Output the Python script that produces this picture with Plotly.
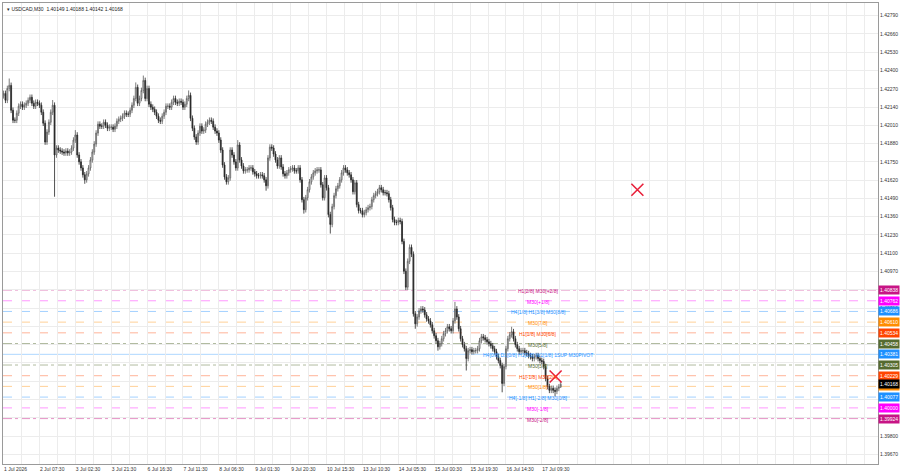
import plotly.graph_objects as go

# ---------------- data ----------------
symbol_header = "USDCAD,M30  1.40149 1.40188 1.40142 1.40168"

opens = [
1.42220, 1.42237, 1.42188, 1.42272, 1.42294, 1.42117, 1.42046, 1.42046, 1.42096, 1.42146,
1.42160, 1.42139, 1.42153, 1.42167, 1.42188, 1.42209, 1.42167, 1.42146, 1.42174, 1.42167,
1.42153, 1.42103, 1.42025, 1.41891, 1.41962, 1.42032, 1.42103, 1.42153, 1.41799, 1.41848,
1.41834, 1.41827, 1.41820, 1.41813, 1.41827, 1.41813, 1.41820, 1.41848, 1.41905, 1.41941,
1.41799, 1.41750, 1.41707, 1.41658, 1.41622, 1.41665, 1.41707, 1.41764, 1.41820, 1.41877,
1.41955, 1.42018, 1.42004, 1.42004, 1.42032, 1.42011, 1.41989, 1.41997, 1.41997, 1.41982,
1.42004, 1.42039, 1.42053, 1.42060, 1.42075, 1.42096, 1.42089, 1.42089, 1.42117, 1.42153,
1.42201, 1.42280, 1.42167, 1.42201, 1.42258, 1.42329, 1.42201, 1.42272, 1.42160, 1.42139,
1.42124, 1.42103, 1.42075, 1.42046, 1.42039, 1.42075, 1.42103, 1.42146, 1.42146, 1.42139,
1.42174, 1.42201, 1.42174, 1.42167, 1.42181, 1.42174, 1.42139, 1.42160, 1.42201, 1.42223,
1.42060, 1.41989, 1.41927, 1.41891, 1.41955, 1.42004, 1.41969, 1.41976, 1.42018, 1.42032,
1.42046, 1.42039, 1.41997, 1.41969, 1.41955, 1.41905, 1.41834, 1.41728, 1.41643, 1.41608,
1.41636, 1.41834, 1.41799, 1.41750, 1.41707, 1.41870, 1.41764, 1.41721, 1.41686, 1.41693,
1.41693, 1.41707, 1.41707, 1.41679, 1.41665, 1.41651, 1.41651, 1.41658, 1.41651, 1.41622,
1.41580, 1.41778, 1.41855, 1.41848, 1.41806, 1.41764, 1.41721, 1.41778, 1.41714, 1.41665,
1.41651, 1.41672, 1.41693, 1.41700, 1.41707, 1.41686, 1.41686, 1.41707, 1.41622, 1.41481,
1.41410, 1.41495, 1.41552, 1.41608, 1.41643, 1.41672, 1.41686, 1.41693, 1.41693, 1.41587,
1.41495, 1.41636, 1.41566, 1.41375, 1.41305, 1.41432, 1.41510, 1.41559, 1.41580, 1.41622,
1.41672, 1.41707, 1.41693, 1.41672, 1.41658, 1.41622, 1.41538, 1.41601, 1.41446, 1.41403,
1.41403, 1.41375, 1.41389, 1.41410, 1.41424, 1.41432, 1.41481, 1.41510, 1.41524, 1.41538,
1.41566, 1.41552, 1.41531, 1.41531, 1.41524, 1.41481, 1.41424, 1.41340, 1.41319, 1.41319,
1.41333, 1.41326, 1.41184, 1.40972, 1.40859, 1.41043, 1.41142, 1.41093, 1.40669, 1.40598,
1.40647, 1.40690, 1.40704, 1.40697, 1.40662, 1.40633, 1.40619, 1.40591, 1.40549, 1.40513,
1.40478, 1.40435, 1.40457, 1.40492, 1.40528, 1.40549, 1.40577, 1.40563, 1.40549, 1.40619,
1.40704, 1.40647, 1.40563, 1.40492, 1.40450, 1.40421, 1.40351, 1.40407, 1.40414, 1.40400,
1.40407, 1.40407, 1.40421, 1.40478, 1.40506, 1.40499, 1.40485, 1.40471, 1.40457, 1.40442,
1.40421, 1.40400, 1.40364, 1.40337, 1.40301, 1.40174, 1.40294, 1.40421, 1.40492, 1.40520,
1.40542, 1.40492, 1.40450, 1.40421, 1.40400, 1.40407, 1.40407, 1.40393, 1.40386, 1.40372,
1.40364, 1.40351, 1.40364, 1.40372, 1.40351, 1.40337, 1.40330, 1.40294, 1.40209, 1.40152,
1.40125, 1.40139, 1.40125, 1.40118, 1.40139, 1.40149,
]

highs = [
1.42257, 1.42257, 1.42292, 1.42343, 1.42314, 1.42137, 1.42066, 1.42116, 1.42166, 1.42180,
1.42180, 1.42173, 1.42187, 1.42208, 1.42229, 1.42229, 1.42187, 1.42194, 1.42194, 1.42187,
1.42173, 1.42123, 1.42045, 1.41982, 1.42052, 1.42123, 1.42190, 1.42173, 1.41868, 1.41868,
1.41854, 1.41847, 1.41840, 1.41847, 1.41847, 1.41840, 1.41868, 1.41925, 1.41976, 1.41961,
1.41819, 1.41770, 1.41727, 1.41678, 1.41685, 1.41727, 1.41784, 1.41840, 1.41897, 1.41975,
1.42038, 1.42038, 1.42024, 1.42052, 1.42052, 1.42031, 1.42017, 1.42017, 1.42017, 1.42024,
1.42059, 1.42073, 1.42080, 1.42095, 1.42116, 1.42116, 1.42109, 1.42137, 1.42173, 1.42221,
1.42315, 1.42300, 1.42221, 1.42278, 1.42364, 1.42349, 1.42292, 1.42292, 1.42180, 1.42159,
1.42144, 1.42123, 1.42095, 1.42066, 1.42095, 1.42123, 1.42166, 1.42166, 1.42166, 1.42194,
1.42221, 1.42221, 1.42194, 1.42201, 1.42201, 1.42194, 1.42180, 1.42221, 1.42258, 1.42243,
1.42080, 1.42009, 1.41947, 1.41975, 1.42024, 1.42024, 1.41996, 1.42038, 1.42052, 1.42066,
1.42066, 1.42059, 1.42017, 1.41989, 1.41975, 1.41925, 1.41854, 1.41748, 1.41663, 1.41656,
1.41854, 1.41854, 1.41819, 1.41770, 1.41905, 1.41890, 1.41784, 1.41741, 1.41713, 1.41713,
1.41727, 1.41727, 1.41727, 1.41699, 1.41685, 1.41671, 1.41678, 1.41678, 1.41671, 1.41642,
1.41798, 1.41875, 1.41875, 1.41868, 1.41826, 1.41784, 1.41798, 1.41798, 1.41734, 1.41685,
1.41692, 1.41713, 1.41720, 1.41727, 1.41727, 1.41706, 1.41727, 1.41727, 1.41642, 1.41501,
1.41515, 1.41572, 1.41628, 1.41663, 1.41692, 1.41706, 1.41713, 1.41713, 1.41713, 1.41607,
1.41656, 1.41656, 1.41586, 1.41395, 1.41452, 1.41530, 1.41579, 1.41600, 1.41642, 1.41692,
1.41727, 1.41727, 1.41713, 1.41692, 1.41678, 1.41642, 1.41621, 1.41621, 1.41466, 1.41423,
1.41423, 1.41409, 1.41430, 1.41444, 1.41452, 1.41501, 1.41530, 1.41544, 1.41558, 1.41586,
1.41586, 1.41572, 1.41551, 1.41551, 1.41544, 1.41501, 1.41444, 1.41360, 1.41339, 1.41353,
1.41353, 1.41346, 1.41204, 1.40992, 1.41063, 1.41163, 1.41162, 1.41113, 1.40689, 1.40667,
1.40710, 1.40724, 1.40724, 1.40717, 1.40682, 1.40653, 1.40639, 1.40611, 1.40569, 1.40533,
1.40498, 1.40477, 1.40512, 1.40548, 1.40569, 1.40597, 1.40597, 1.40583, 1.40639, 1.40754,
1.40724, 1.40667, 1.40583, 1.40512, 1.40470, 1.40441, 1.40427, 1.40434, 1.40434, 1.40427,
1.40427, 1.40441, 1.40498, 1.40526, 1.40526, 1.40519, 1.40505, 1.40491, 1.40477, 1.40462,
1.40441, 1.40420, 1.40384, 1.40357, 1.40321, 1.40314, 1.40441, 1.40512, 1.40540, 1.40577,
1.40562, 1.40512, 1.40470, 1.40441, 1.40427, 1.40427, 1.40427, 1.40413, 1.40406, 1.40392,
1.40384, 1.40384, 1.40392, 1.40392, 1.40371, 1.40357, 1.40350, 1.40314, 1.40229, 1.40172,
1.40159, 1.40159, 1.40145, 1.40159, 1.40169, 1.40188,
]

lows = [
1.42200, 1.42168, 1.42168, 1.42252, 1.42097, 1.42026, 1.42026, 1.42026, 1.42076, 1.42126,
1.42119, 1.42119, 1.42133, 1.42147, 1.42168, 1.42147, 1.42126, 1.42126, 1.42147, 1.42133,
1.42083, 1.42005, 1.41871, 1.41871, 1.41942, 1.42012, 1.42083, 1.41502, 1.41779, 1.41814,
1.41807, 1.41800, 1.41793, 1.41793, 1.41793, 1.41793, 1.41800, 1.41828, 1.41885, 1.41779,
1.41730, 1.41687, 1.41638, 1.41594, 1.41602, 1.41645, 1.41687, 1.41744, 1.41800, 1.41857,
1.41935, 1.41984, 1.41984, 1.41984, 1.41991, 1.41969, 1.41969, 1.41977, 1.41962, 1.41962,
1.41984, 1.42019, 1.42033, 1.42040, 1.42055, 1.42069, 1.42069, 1.42069, 1.42097, 1.42133,
1.42181, 1.42147, 1.42147, 1.42181, 1.42238, 1.42181, 1.42181, 1.42140, 1.42119, 1.42104,
1.42083, 1.42055, 1.42026, 1.42019, 1.42019, 1.42055, 1.42083, 1.42126, 1.42119, 1.42119,
1.42154, 1.42154, 1.42147, 1.42147, 1.42154, 1.42119, 1.42119, 1.42140, 1.42181, 1.42040,
1.41969, 1.41907, 1.41871, 1.41871, 1.41935, 1.41949, 1.41949, 1.41956, 1.41998, 1.42012,
1.42019, 1.41977, 1.41949, 1.41935, 1.41885, 1.41814, 1.41708, 1.41623, 1.41588, 1.41588,
1.41616, 1.41779, 1.41730, 1.41687, 1.41687, 1.41744, 1.41701, 1.41666, 1.41666, 1.41673,
1.41673, 1.41687, 1.41659, 1.41645, 1.41631, 1.41631, 1.41631, 1.41631, 1.41602, 1.41545,
1.41560, 1.41758, 1.41828, 1.41786, 1.41744, 1.41701, 1.41701, 1.41694, 1.41645, 1.41631,
1.41631, 1.41652, 1.41673, 1.41680, 1.41666, 1.41666, 1.41666, 1.41602, 1.41461, 1.41382,
1.41390, 1.41475, 1.41532, 1.41588, 1.41623, 1.41652, 1.41666, 1.41673, 1.41567, 1.41475,
1.41475, 1.41546, 1.41355, 1.41240, 1.41285, 1.41412, 1.41490, 1.41539, 1.41560, 1.41602,
1.41652, 1.41673, 1.41652, 1.41638, 1.41602, 1.41518, 1.41518, 1.41426, 1.41383, 1.41383,
1.41355, 1.41355, 1.41369, 1.41390, 1.41404, 1.41412, 1.41461, 1.41490, 1.41504, 1.41518,
1.41532, 1.41511, 1.41511, 1.41504, 1.41461, 1.41404, 1.41320, 1.41299, 1.41299, 1.41299,
1.41306, 1.41164, 1.40952, 1.40838, 1.40839, 1.41023, 1.41073, 1.40649, 1.40563, 1.40578,
1.40627, 1.40670, 1.40677, 1.40642, 1.40613, 1.40599, 1.40571, 1.40529, 1.40493, 1.40458,
1.40407, 1.40415, 1.40437, 1.40472, 1.40508, 1.40529, 1.40543, 1.40529, 1.40529, 1.40599,
1.40627, 1.40543, 1.40472, 1.40430, 1.40401, 1.40266, 1.40331, 1.40387, 1.40380, 1.40380,
1.40387, 1.40387, 1.40401, 1.40458, 1.40479, 1.40465, 1.40451, 1.40437, 1.40422, 1.40401,
1.40380, 1.40344, 1.40317, 1.40281, 1.40111, 1.40154, 1.40274, 1.40401, 1.40472, 1.40500,
1.40472, 1.40430, 1.40401, 1.40380, 1.40380, 1.40387, 1.40373, 1.40366, 1.40352, 1.40344,
1.40331, 1.40331, 1.40344, 1.40331, 1.40317, 1.40310, 1.40274, 1.40189, 1.40132, 1.40105,
1.40105, 1.40105, 1.40082, 1.40098, 1.40119, 1.40142,
]

closes = [
1.42237, 1.42188, 1.42272, 1.42294, 1.42117, 1.42046, 1.42046, 1.42096, 1.42146, 1.42160,
1.42139, 1.42153, 1.42167, 1.42188, 1.42209, 1.42167, 1.42146, 1.42174, 1.42167, 1.42153,
1.42103, 1.42025, 1.41891, 1.41962, 1.42032, 1.42103, 1.42153, 1.41799, 1.41848, 1.41834,
1.41827, 1.41820, 1.41813, 1.41827, 1.41813, 1.41820, 1.41848, 1.41905, 1.41941, 1.41799,
1.41750, 1.41707, 1.41658, 1.41622, 1.41665, 1.41707, 1.41764, 1.41820, 1.41877, 1.41955,
1.42018, 1.42004, 1.42004, 1.42032, 1.42011, 1.41989, 1.41997, 1.41997, 1.41982, 1.42004,
1.42039, 1.42053, 1.42060, 1.42075, 1.42096, 1.42089, 1.42089, 1.42117, 1.42153, 1.42201,
1.42280, 1.42167, 1.42201, 1.42258, 1.42329, 1.42201, 1.42272, 1.42160, 1.42139, 1.42124,
1.42103, 1.42075, 1.42046, 1.42039, 1.42075, 1.42103, 1.42146, 1.42146, 1.42139, 1.42174,
1.42201, 1.42174, 1.42167, 1.42181, 1.42174, 1.42139, 1.42160, 1.42201, 1.42223, 1.42060,
1.41989, 1.41927, 1.41891, 1.41955, 1.42004, 1.41969, 1.41976, 1.42018, 1.42032, 1.42046,
1.42039, 1.41997, 1.41969, 1.41955, 1.41905, 1.41834, 1.41728, 1.41643, 1.41608, 1.41636,
1.41834, 1.41799, 1.41750, 1.41707, 1.41870, 1.41764, 1.41721, 1.41686, 1.41693, 1.41693,
1.41707, 1.41707, 1.41679, 1.41665, 1.41651, 1.41651, 1.41658, 1.41651, 1.41622, 1.41580,
1.41778, 1.41855, 1.41848, 1.41806, 1.41764, 1.41721, 1.41778, 1.41714, 1.41665, 1.41651,
1.41672, 1.41693, 1.41700, 1.41707, 1.41686, 1.41686, 1.41707, 1.41622, 1.41481, 1.41410,
1.41495, 1.41552, 1.41608, 1.41643, 1.41672, 1.41686, 1.41693, 1.41693, 1.41587, 1.41495,
1.41636, 1.41566, 1.41375, 1.41305, 1.41432, 1.41510, 1.41559, 1.41580, 1.41622, 1.41672,
1.41707, 1.41693, 1.41672, 1.41658, 1.41622, 1.41538, 1.41601, 1.41446, 1.41403, 1.41403,
1.41375, 1.41389, 1.41410, 1.41424, 1.41432, 1.41481, 1.41510, 1.41524, 1.41538, 1.41566,
1.41552, 1.41531, 1.41531, 1.41524, 1.41481, 1.41424, 1.41340, 1.41319, 1.41319, 1.41333,
1.41326, 1.41184, 1.40972, 1.40859, 1.41043, 1.41142, 1.41093, 1.40669, 1.40598, 1.40647,
1.40690, 1.40704, 1.40697, 1.40662, 1.40633, 1.40619, 1.40591, 1.40549, 1.40513, 1.40478,
1.40435, 1.40457, 1.40492, 1.40528, 1.40549, 1.40577, 1.40563, 1.40549, 1.40619, 1.40704,
1.40647, 1.40563, 1.40492, 1.40450, 1.40421, 1.40351, 1.40407, 1.40414, 1.40400, 1.40407,
1.40407, 1.40421, 1.40478, 1.40506, 1.40499, 1.40485, 1.40471, 1.40457, 1.40442, 1.40421,
1.40400, 1.40364, 1.40337, 1.40301, 1.40174, 1.40294, 1.40421, 1.40492, 1.40520, 1.40542,
1.40492, 1.40450, 1.40421, 1.40400, 1.40407, 1.40407, 1.40393, 1.40386, 1.40372, 1.40364,
1.40351, 1.40364, 1.40372, 1.40351, 1.40337, 1.40330, 1.40294, 1.40209, 1.40152, 1.40125,
1.40139, 1.40125, 1.40118, 1.40139, 1.40149, 1.40168,
]

assert len(opens) == len(highs) == len(lows) == len(closes)
bars = list(range(len(closes)))

# time axis labels (hourly bars)
time_tick_bars = [0, 19, 38, 57, 76, 95, 114, 133, 152, 171, 190, 209, 228, 247, 266, 285]
time_tick_labels = ["1 Jul 2026", "2 Jul 07:30", "3 Jul 02:30", "3 Jul 21:30", "6 Jul 16:30",
                    "7 Jul 11:30", "8 Jul 06:30", "9 Jul 01:30", "9 Jul 20:30", "10 Jul 15:30",
                    "13 Jul 10:30", "14 Jul 05:30", "15 Jul 00:30", "15 Jul 19:30",
                    "16 Jul 14:30", "17 Jul 09:30"]

# price grid; labels hidden under the level boxes are left blank, as in the picture
price_ticks = [1.39670, 1.39800, 1.39930, 1.40060, 1.40190, 1.40320, 1.40450,
               1.40580, 1.40710, 1.40840, 1.40970, 1.41100, 1.41230, 1.41360,
               1.41490, 1.41620, 1.41750, 1.41880, 1.42010, 1.42140, 1.42270,
               1.42400, 1.42530, 1.42660, 1.42790]
price_tick_labels = ["1.39670", "1.39800", "1.39930", "", "", "1.40320", "",
                     "", "1.40710", "", "1.40970", "1.41100", "1.41230", "1.41360",
                     "1.41490", "1.41620", "1.41750", "1.41880", "1.42010", "1.42140", "1.42270",
                     "1.42400", "1.42530", "1.42660", "1.42790"]

# Murrey-math levels
level_prices = [1.40838, 1.40762, 1.40686, 1.40610, 1.40534, 1.40458, 1.40381,
                1.40305, 1.40229, 1.40153, 1.40077, 1.40000, 1.39924]
level_texts = ["H1[2/8] M30[+2/8]", "M30[+1/8]", "H4[1/8] H1[3/8] M30[8/8]", "M30[7/8]",
               "H1[1/8] M30[6/8]", "M30[5/8]",
               "H4[0/8] D1[0/8] H1[0/8] W1[1/8] 1SUP M30PIVOT",
               "M30[3/8]", "H1[-1/8] M30[2/8]", "M30[1/8]", "H4[-1/8] H1[-2/8] M30[0/8]",
               "M30[-1/8]", "M30[-2/8]"]

# red cross markers
cross_bars = [335.6, 292.3]
cross_prices = [1.41552, 1.40223]

# ---------------- styles ----------------
level_colors = ["#C71585", "#FF00FF", "#1E90FF", "#FF8C00", "#FF4500", "#556B2F", "#1E90FF",
                "#556B2F", "#FF4500", "#FF8C00", "#1E90FF", "#FF00FF", "#C71585"]
level_dash = ["dashdot", "dash", "dash", "dash", "dash", "dashdot", "solid",
              "dashdot", "dash", "dash", "dash", "dash", "dashdot"]
level_opacity = [0.45, 0.4, 0.4, 0.4, 0.4, 0.45, 0.35, 0.45, 0.4, 0.4, 0.4, 0.4, 0.45]
label_x_bar = 283

FONT = "Liberation Sans"

fig = go.Figure()

# level lines
for p, col, d, op in zip(level_prices, level_colors, level_dash, level_opacity):
    fig.add_shape(type="line", xref="paper", x0=0, x1=1, yref="y", y0=p, y1=p,
                  line=dict(color=col, width=1, dash=d), opacity=op, layer="below")

fig.add_trace(go.Candlestick(
    x=bars, open=opens, high=highs, low=lows, close=closes,
    increasing=dict(line=dict(color="#5a5a5a", width=0.8), fillcolor="#ffffff"),
    decreasing=dict(line=dict(color="#262626", width=0.8), fillcolor="#262626"),
    whiskerwidth=0, showlegend=False, hoverinfo="skip"))

fig.add_trace(go.Scatter(
    x=cross_bars, y=cross_prices, mode="markers", showlegend=False, hoverinfo="skip",
    marker=dict(symbol="x-thin", size=12, line=dict(color="#E8203A", width=1.6))))

annotations = []
for p, col, t in zip(level_prices, level_colors, level_texts):
    annotations.append(dict(x=label_x_bar, y=p, xref="x", yref="y", text=t, showarrow=False,
                            xanchor="center", yanchor="middle", yshift=-1,
                            font=dict(family=FONT, size=5, color=col)))
    annotations.append(dict(x=1, y=p, xref="paper", yref="y", text=f"{p:.5f}", showarrow=False,
                            xanchor="left", yanchor="middle", xshift=0,
                            bgcolor=col, borderpad=1,
                            font=dict(family=FONT, size=5, color="#ffffff")))
annotations.append(dict(x=1, y=closes[-1], xref="paper", yref="y", text=f"{closes[-1]:.5f}",
                        showarrow=False, xanchor="left", yanchor="middle",
                        bgcolor="#000000", borderpad=1,
                        font=dict(family=FONT, size=5, color="#ffffff")))
annotations.append(dict(x=0, y=1, xref="paper", yref="paper", text="▾ " + symbol_header,
                        showarrow=False, xanchor="left", yanchor="top", xshift=2, yshift=-1,
                        font=dict(family=FONT, size=5, color="#222222")))

fig.update_layout(
    width=900, height=474,
    margin=dict(l=2, r=20, t=2, b=8),
    paper_bgcolor="#ffffff", plot_bgcolor="#ffffff",
    annotations=annotations,
    showlegend=False,
    font=dict(family=FONT, size=5, color="#333333"),
)

fig.update_xaxes(
    range=[-0.3, 463.0], rangeslider_visible=False,
    tickmode="array", tickvals=time_tick_bars, ticktext=time_tick_labels,
    ticklabelposition="outside right", ticks="", showgrid=False,
    minor=dict(tickmode="linear", tick0=0, dtick=9.5, showgrid=True,
               gridcolor="#ececec", gridwidth=1),
    showline=True, linecolor="#9a9a9a", linewidth=1, mirror=True,
    tickfont=dict(family=FONT, size=5, color="#333333"), zeroline=False,
)
fig.update_yaxes(
    range=[1.39601, 1.42880], side="right",
    tickmode="array", tickvals=price_ticks, ticktext=price_tick_labels,
    ticks="", showgrid=True, gridcolor="#ececec", gridwidth=1,
    showline=True, linecolor="#9a9a9a", linewidth=1, mirror=True,
    tickfont=dict(family=FONT, size=5, color="#333333"), zeroline=False,
)

fig.write_html("out.html")
